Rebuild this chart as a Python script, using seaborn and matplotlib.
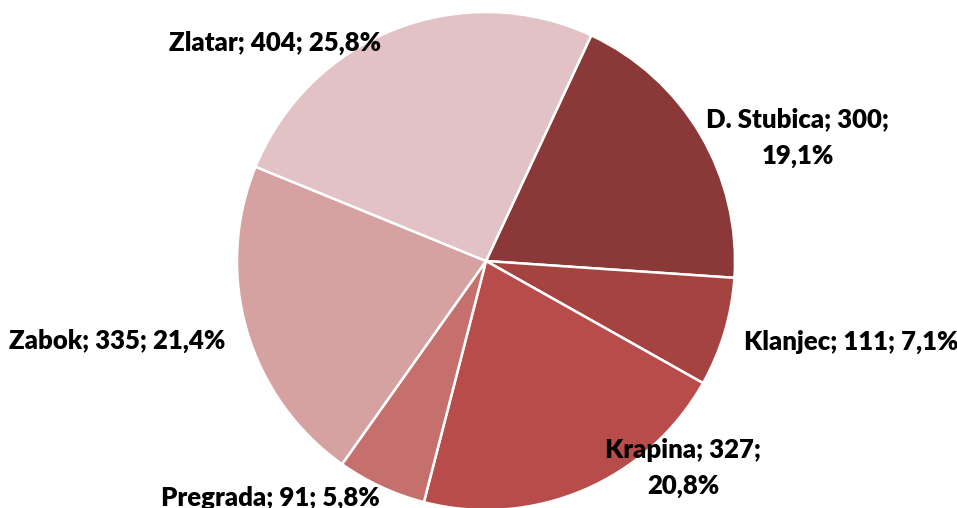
import matplotlib
matplotlib.use("Agg")
import matplotlib.pyplot as plt
import seaborn as sns

# data
towns = ['D. Stubica', 'Klanjec', 'Krapina', 'Pregrada', 'Zabok', 'Zlatar']
counts = [300, 111, 327, 91, 335, 404]
pct_labels = ['19,1%', '7,1%', '20,8%', '5,8%', '21,4%', '25,8%']
colors = ['#8B3838', '#A54341', '#B84C4A', '#C6706E', '#D6A1A1', '#E2C2C4']

# label positions (pie units, centre 0,0, radius 1) and line breaks, Excel "best fit" style
label_pos = [(1.253, 0.495), (1.466, -0.325), (0.791, -0.83), (-0.867, -0.95), (-1.482, -0.32), (-0.847, 0.876)]
two_line = [True, False, True, False, False, False]

sns.set_theme(style="white")
plt.rcParams['font.family'] = ['Lato', 'DejaVu Sans']

fig = plt.figure(figsize=(9.57, 5.08), dpi=100)
cx, cy, r = 486, 261, 249
W, H = 957, 508
ax = fig.add_axes([(cx - r) / W, (H - cy - r) / H, 2 * r / W, 2 * r / H])

wedges, _ = ax.pie(counts, colors=colors, startangle=65, counterclock=False,
                   wedgeprops=dict(edgecolor='white', linewidth=1.8))
ax.set_xlim(-1, 1)
ax.set_ylim(-1, 1)
ax.set_aspect('equal')

for name, n, p, (x, y), tl in zip(towns, counts, pct_labels, label_pos, two_line):
    txt = f"{name}; {n};\n{p}" if tl else f"{name}; {n}; {p}"
    ax.text(x, y, txt, ha='center', va='center', fontsize=18.5, fontweight='heavy',
            color='black', linespacing=1.6, clip_on=False)

fig.savefig('out.png', dpi=100)
